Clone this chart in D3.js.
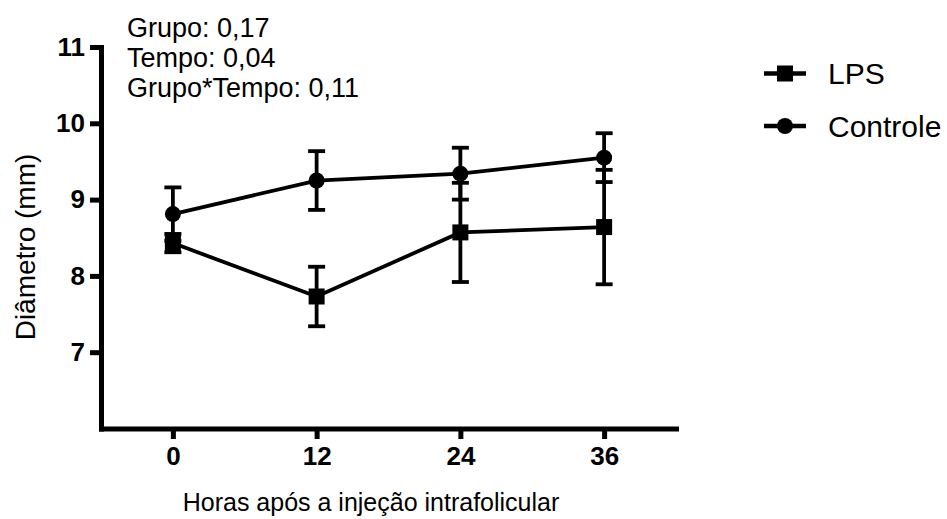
<!DOCTYPE html>
<html>
<head>
<meta charset="utf-8">
<script src="https://cdn.jsdelivr.net/npm/d3@7"></script>
<style>
  body { margin: 0; background: #fff; }
  text { font-family: "Liberation Sans", Arial, sans-serif; fill: #000; }
</style>
</head>
<body>
<script>
const hours = [0, 12, 24, 36];
const lpsMean = [8.43, 7.73, 8.57, 8.64];
const lpsErr = [0.12, 0.39, 0.65, 0.75];
const ctrlMean = [8.81, 9.25, 9.34, 9.55];
const ctrlErr = [0.35, 0.385, 0.34, 0.32];
const yTicks = [7, 8, 9, 10, 11];
const seriesNames = ['LPS', 'Controle'];
const stats = ['Grupo: 0,17', 'Tempo: 0,04', 'Grupo*Tempo: 0,11'];

const width = 947;
const height = 519;

const svg = d3.select('body')
  .append('svg')
  .attr('width', width)
  .attr('height', height)
  .style('background', '#fff');

const x = d3.scaleLinear().domain([-6, 42]).range([101, 676]);
const y = d3.scaleLinear().domain([6, 11]).range([428.5, 47]);

// x-axis
const xAxis = svg.append('g')
  .attr('transform', 'translate(0,' + y(6) + ')')
  .call(d3.axisBottom(x)
    .tickValues(hours)
    .tickFormat(d3.format('d'))
    .tickSizeInner(10.5)
    .tickSizeOuter(0)
    .tickPadding(8));
xAxis.select('.domain').attr('stroke-width', 5).attr('stroke-linecap', 'square');
xAxis.selectAll('.tick line').attr('stroke-width', 5);
xAxis.selectAll('.tick text')
  .style('font-size', '26px')
  .style('font-weight', 'bold')
  .style('font-family', '"Liberation Sans", Arial, sans-serif');

// y-axis
const yAxis = svg.append('g')
  .attr('transform', 'translate(' + x(-6) + ',0)')
  .call(d3.axisLeft(y)
    .tickValues(yTicks)
    .tickFormat(d3.format('d'))
    .tickSizeInner(11)
    .tickSizeOuter(0)
    .tickPadding(5));
yAxis.select('.domain').attr('stroke-width', 5).attr('stroke-linecap', 'square');
yAxis.selectAll('.tick line').attr('stroke-width', 5);
yAxis.selectAll('.tick text')
  .style('font-size', '26px')
  .style('font-weight', 'bold')
  .style('font-family', '"Liberation Sans", Arial, sans-serif');

// axis titles
svg.append('text')
  .attr('x', 371)
  .attr('y', 511)
  .attr('text-anchor', 'middle')
  .style('font-size', '25px')
  .text('Horas após a injeção intrafolicular');

svg.append('text')
  .attr('transform', 'translate(35,247) rotate(-90)')
  .attr('text-anchor', 'middle')
  .style('font-size', '28px')
  .text('Diâmetro (mm)');

// stats
svg.append('g')
  .selectAll('text')
  .data(stats)
  .join('text')
  .attr('x', 127)
  .attr('y', (d, i) => 37 + i * 30)
  .style('font-size', '27px')
  .text(d => d);

// series
const series = [
  { name: seriesNames[1], mean: ctrlMean, err: ctrlErr, shape: 'circle' },
  { name: seriesNames[0], mean: lpsMean, err: lpsErr, shape: 'square' }
];

const line = d3.line()
  .x(d => x(d.h))
  .y(d => y(d.m));

function drawMarker(g, shape, cx, cy) {
  if (shape === 'square') {
    g.append('rect')
      .attr('x', cx - 8)
      .attr('y', cy - 8)
      .attr('width', 16)
      .attr('height', 16)
      .attr('fill', '#000');
  } else {
    g.append('circle')
      .attr('cx', cx)
      .attr('cy', cy)
      .attr('r', 8)
      .attr('fill', '#000');
  }
}

series.forEach(s => {
  const pts = hours.map((h, i) => ({ h: h, m: s.mean[i], e: s.err[i] }));
  const g = svg.append('g');

  g.append('path')
    .datum(pts)
    .attr('fill', 'none')
    .attr('stroke', '#000')
    .attr('stroke-width', 3.8)
    .attr('d', line);

  pts.forEach(p => {
    g.append('line')
      .attr('x1', x(p.h)).attr('x2', x(p.h))
      .attr('y1', y(p.m - p.e)).attr('y2', y(p.m + p.e))
      .attr('stroke', '#000')
      .attr('stroke-width', 3.8);
    [p.m - p.e, p.m + p.e].forEach(v => {
      g.append('line')
        .attr('x1', x(p.h) - 8.5).attr('x2', x(p.h) + 8.5)
        .attr('y1', y(v)).attr('y2', y(v))
        .attr('stroke', '#000')
        .attr('stroke-width', 3.8);
    });
    drawMarker(g, s.shape, x(p.h), y(p.m));
  });
});

// legend
const legend = svg.append('g');
const legendRows = [
  { name: seriesNames[0], shape: 'square', y: 73.5 },
  { name: seriesNames[1], shape: 'circle', y: 126 }
];
legendRows.forEach(r => {
  legend.append('line')
    .attr('x1', 764).attr('x2', 806)
    .attr('y1', r.y).attr('y2', r.y)
    .attr('stroke', '#000')
    .attr('stroke-width', 4.5);
  drawMarker(legend, r.shape, 785, r.y);
  legend.append('text')
    .attr('x', 828)
    .attr('y', r.y)
    .attr('dy', '0.35em')
    .style('font-size', '30px')
    .text(r.name);
});
</script>
</body>
</html>
